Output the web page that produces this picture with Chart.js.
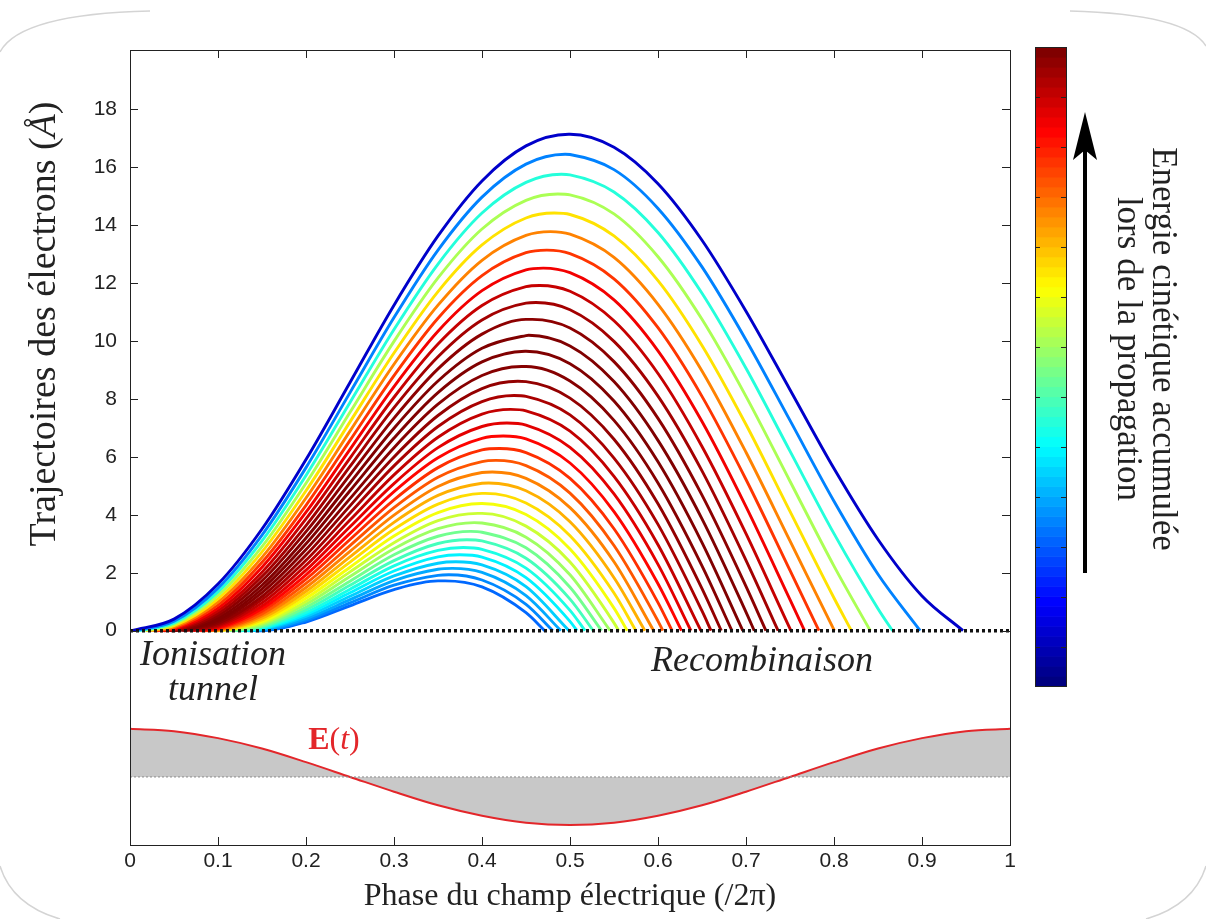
<!DOCTYPE html>
<html lang="fr">
<head>
<meta charset="UTF-8">
<title>Trajectoires des électrons</title>
<script src="https://cdn.jsdelivr.net/npm/chart.js"></script>
<style>
  * { margin: 0; padding: 0; box-sizing: border-box; }
  body { background: #fff; }
  .wrap { width: 1206px; height: 919px; position: relative; }
</style>
</head>
<body>
<div class="wrap"><canvas id="traj"></canvas></div>
<script>
// phase grid (in units of 2pi) on which the trajectories are read
const phaseGrid = [0, 0.05, 0.1, 0.15, 0.2, 0.25, 0.3, 0.35, 0.4, 0.45, 0.5,
                   0.55, 0.6, 0.65, 0.7, 0.75, 0.8, 0.85, 0.9, 0.95, 1];

// one entry per trajectory, outermost first
const ionisationPhase = [0.0015, 0.0056, 0.0098, 0.0139, 0.0180, 0.0222, 0.0263, 0.0304, 0.0346, 0.0387,
                         0.0428, 0.0469, 0.0511, 0.0552, 0.0593, 0.0635, 0.0676, 0.0717, 0.0759, 0.0800,
                         0.0841, 0.0883, 0.0924, 0.0965, 0.1007, 0.1048, 0.1089, 0.1131, 0.1172, 0.1213,
                         0.1255, 0.1296, 0.1337, 0.1378, 0.1420];
const recombinationPhase = [0.9466, 0.8979, 0.8665, 0.8412, 0.8198, 0.8005, 0.7829, 0.7665, 0.7511, 0.7365,
                            0.7227, 0.7094, 0.6964, 0.6840, 0.6719, 0.6603, 0.6488, 0.6374, 0.6267, 0.6160,
                            0.6055, 0.5951, 0.5851, 0.5748, 0.5651, 0.5553, 0.5456, 0.5359, 0.5264, 0.5171,
                            0.5080, 0.4990, 0.4896, 0.4804, 0.4713];
const apexPhase = [0.4985, 0.4944, 0.4902, 0.4861, 0.4820, 0.4778, 0.4737, 0.4696, 0.4655, 0.4613,
                   0.4572, 0.4531, 0.4489, 0.4448, 0.4407, 0.4365, 0.4324, 0.4283, 0.4241, 0.4200,
                   0.4159, 0.4117, 0.4076, 0.4035, 0.3993, 0.3952, 0.3911, 0.3870, 0.3828, 0.3787,
                   0.3746, 0.3704, 0.3663, 0.3622, 0.3580];
const apexHeight = [17.14, 16.45, 15.76, 15.08, 14.42, 13.78, 13.14, 12.52, 11.92, 11.33,
                    10.75, 10.20, 9.65, 9.12, 8.61, 8.12, 7.64, 7.17, 6.72, 6.29,
                    5.88, 5.48, 5.10, 4.74, 4.39, 4.05, 3.73, 3.43, 3.14, 2.87,
                    2.62, 2.38, 2.15, 1.93, 1.72];
// kinetic energy at return (Up), drives the colour
const returnEnergy = [0.23, 0.80, 1.30, 1.72, 2.07, 2.37, 2.61, 2.81, 2.95, 3.06,
                      3.13, 3.17, 3.17, 3.15, 3.11, 3.04, 2.96, 2.86, 2.76, 2.63,
                      2.51, 2.37, 2.23, 2.09, 1.95, 1.82, 1.68, 1.54, 1.40, 1.27,
                      1.15, 1.04, 0.92, 0.82, 0.72];
// heights (Angstrom) at the grid phases that fall between ionisation and return
const trajectoryHeights = [
  [0.40, 1.61, 3.51, 5.91, 8.57, 11.24, 13.63, 15.53, 16.74, 17.14, 16.69, 15.43, 13.48, 11.03, 8.32, 5.60, 3.15, 1.20],
  [0.33, 1.47, 3.30, 5.63, 8.22, 10.81, 13.14, 14.97, 16.11, 16.44, 15.92, 14.58, 12.56, 10.04, 7.26, 4.47, 1.95],
  [0.27, 1.34, 3.10, 5.36, 7.88, 10.40, 12.66, 14.42, 15.48, 15.74, 15.15, 13.75, 11.65, 9.06, 6.20, 3.35, 0.76],
  [0.22, 1.22, 2.90, 5.09, 7.54, 9.99, 12.18, 13.87, 14.86, 15.05, 14.39, 12.91, 10.75, 8.09, 5.16, 2.23],
  [0.17, 1.10, 2.72, 4.83, 7.21, 9.59, 11.71, 13.32, 14.25, 14.37, 13.63, 12.09, 9.85, 7.12, 4.12, 1.13],
  [0.13, 0.99, 2.53, 4.58, 6.89, 9.20, 11.24, 12.79, 13.65, 13.69, 12.89, 11.27, 8.97, 6.16, 3.10, 0.03],
  [0.09, 0.88, 2.36, 4.33, 6.57, 8.81, 10.79, 12.26, 13.05, 13.02, 12.15, 10.46, 8.09, 5.22, 2.08],
  [0.06, 0.78, 2.19, 4.09, 6.26, 8.43, 10.34, 11.74, 12.46, 12.36, 11.42, 9.66, 7.22, 4.28, 1.07],
  [0.04, 0.69, 2.02, 3.86, 5.96, 8.06, 9.90, 11.23, 11.88, 11.72, 10.70, 8.88, 6.36, 3.35, 0.07],
  [0.02, 0.60, 1.87, 3.63, 5.67, 7.70, 9.46, 10.73, 11.31, 11.08, 9.99, 8.10, 5.52, 2.43],
  [0.01, 0.52, 1.72, 3.42, 5.38, 7.34, 9.04, 10.24, 10.75, 10.45, 9.29, 7.33, 4.68, 1.53],
  [0.00, 0.44, 1.57, 3.20, 5.10, 6.99, 8.62, 9.75, 10.19, 9.83, 8.60, 6.57, 3.86, 0.64],
  [0.37, 1.44, 3.00, 4.83, 6.65, 8.22, 9.28, 9.65, 9.22, 7.93, 5.83, 3.04],
  [0.31, 1.31, 2.80, 4.56, 6.32, 7.82, 8.81, 9.12, 8.62, 7.26, 5.10, 2.24],
  [0.25, 1.18, 2.61, 4.31, 6.00, 7.43, 8.36, 8.60, 8.03, 6.61, 4.38, 1.45],
  [0.20, 1.07, 2.43, 4.06, 5.69, 7.05, 7.91, 8.09, 7.45, 5.96, 3.67, 0.68],
  [0.16, 0.96, 2.26, 3.82, 5.38, 6.68, 7.48, 7.59, 6.89, 5.33, 2.97],
  [0.12, 0.85, 2.09, 3.59, 5.08, 6.32, 7.05, 7.10, 6.33, 4.72, 2.29],
  [0.09, 0.76, 1.93, 3.36, 4.80, 5.97, 6.64, 6.62, 5.79, 4.11, 1.62],
  [0.06, 0.67, 1.78, 3.15, 4.52, 5.63, 6.24, 6.15, 5.26, 3.52, 0.97],
  [0.04, 0.58, 1.63, 2.94, 4.25, 5.30, 5.84, 5.70, 4.75, 2.94, 0.33],
  [0.02, 0.51, 1.49, 2.74, 3.99, 4.98, 5.46, 5.26, 4.25, 2.38],
  [0.01, 0.43, 1.36, 2.55, 3.74, 4.67, 5.09, 4.83, 3.76, 1.83],
  [0.00, 0.37, 1.24, 2.37, 3.50, 4.37, 4.74, 4.41, 3.28, 1.30],
  [0.31, 1.12, 2.19, 3.27, 4.08, 4.39, 4.01, 2.82, 0.78],
  [0.26, 1.01, 2.03, 3.04, 3.80, 4.05, 3.61, 2.37, 0.27],
  [0.21, 0.91, 1.87, 2.83, 3.52, 3.72, 3.23, 1.93],
  [0.16, 0.81, 1.71, 2.62, 3.26, 3.40, 2.86, 1.50],
  [0.13, 0.72, 1.57, 2.42, 3.01, 3.10, 2.50, 1.09],
  [0.10, 0.63, 1.43, 2.24, 2.77, 2.81, 2.16, 0.70],
  [0.07, 0.56, 1.31, 2.06, 2.55, 2.54, 1.83, 0.32],
  [0.05, 0.49, 1.19, 1.89, 2.33, 2.27, 1.52],
  [0.03, 0.42, 1.07, 1.73, 2.12, 2.01, 1.21],
  [0.01, 0.36, 0.96, 1.57, 1.91, 1.75, 0.91],
  [0.00, 0.30, 0.86, 1.42, 1.72, 1.51, 0.62]
];

// driving field, drawn under the trajectories on the same grid
const fieldValues = [-3.39, -3.47, -3.71, -4.07, -4.54, -5.05, -5.56, -6.03, -6.39, -6.63, -6.71,
                     -6.63, -6.39, -6.03, -5.56, -5.05, -4.54, -4.07, -3.71, -3.47, -3.39];
const fieldBaseline = -5.05;

const xTicks = [0, 0.1, 0.2, 0.3, 0.4, 0.5, 0.6, 0.7, 0.8, 0.9, 1];
const xTickLabels = ['0', '0.1', '0.2', '0.3', '0.4', '0.5', '0.6', '0.7', '0.8', '0.9', '1'];
const yTicks = [0, 2, 4, 6, 8, 10, 12, 14, 16, 18];

const serif = "'Liberation Serif', 'DejaVu Serif', serif";
const sans = "'Liberation Sans Narrow', 'Liberation Sans', Arial, sans-serif";
const W = 1206, H = 919;
const AREA = { left: 130, top: 50, right: 1010, bottom: 845 };

function jet(v) {
    const c = t => Math.round(255 * Math.max(0, Math.min(1, t)));
    return 'rgb(' + c(1.5 - Math.abs(4 * v - 3)) + ',' + c(1.5 - Math.abs(4 * v - 2)) + ',' + c(1.5 - Math.abs(4 * v - 1)) + ')';
}

const datasets = [];
datasets.push({ data: [{ x: 0, y: fieldBaseline }, { x: 1, y: fieldBaseline }], borderColor: '#8c8c8c', borderWidth: 1, borderDash: [2, 2], pointRadius: 0 });
datasets.push({ data: [{ x: 0, y: 0 }, { x: 1, y: 0 }], borderColor: '#111', borderWidth: 3.5, borderDash: [3, 3], pointRadius: 0 });
datasets.push({
    data: phaseGrid.map((p, i) => ({ x: p, y: fieldValues[i] })),
    borderColor: '#e3262a', borderWidth: 2, pointRadius: 0, cubicInterpolationMode: 'monotone',
    fill: { value: fieldBaseline }, backgroundColor: '#c8c8c8'
});

const step = phaseGrid[1] - phaseGrid[0];
const eMax = Math.max(...returnEnergy);
trajectoryHeights.forEach((row, i) => {
    const k0 = Math.floor(ionisationPhase[i] / step) + 1;
    const pts = [{ x: ionisationPhase[i], y: 0 }];
    row.forEach((y, j) => pts.push({ x: phaseGrid[k0 + j], y: y }));
    pts.push({ x: apexPhase[i], y: apexHeight[i] });
    pts.push({ x: recombinationPhase[i], y: 0 });
    pts.sort((a, b) => a.x - b.x);
    datasets.push({
        data: pts, borderColor: jet(returnEnergy[i] / eMax), borderWidth: 2.9,
        pointRadius: 0, cubicInterpolationMode: 'monotone', fill: false
    });
});

function drawParts(ctx, parts, x, y) {
    // parts: [text, font] drawn one after another, centred on x
    let total = 0;
    parts.forEach(p => { ctx.font = p[1]; total += ctx.measureText(p[0]).width; });
    let cx = x - total / 2;
    ctx.textAlign = 'left';
    parts.forEach(p => { ctx.font = p[1]; ctx.fillText(p[0], cx, y); cx += ctx.measureText(p[0]).width; });
}

const decorations = {
    id: 'decorations',
    afterDraw(chart) {
        const ctx = chart.ctx;
        const xs = chart.scales.x, ys = chart.scales.y;
        ctx.save();

        // box and inward ticks
        ctx.strokeStyle = '#222';
        ctx.lineWidth = 1;
        ctx.strokeRect(AREA.left + 0.5, AREA.top + 0.5, AREA.right - AREA.left, AREA.bottom - AREA.top);
        ctx.beginPath();
        xTicks.forEach(v => {
            const px = Math.round(xs.getPixelForValue(v)) + 0.5;
            ctx.moveTo(px, AREA.bottom); ctx.lineTo(px, AREA.bottom - 8);
            ctx.moveTo(px, AREA.top); ctx.lineTo(px, AREA.top + 8);
        });
        yTicks.forEach(v => {
            const py = Math.round(ys.getPixelForValue(v)) + 0.5;
            ctx.moveTo(AREA.left, py); ctx.lineTo(AREA.left + 8, py);
            ctx.moveTo(AREA.right, py); ctx.lineTo(AREA.right - 8, py);
        });
        ctx.stroke();

        // axis titles
        ctx.fillStyle = '#222';
        ctx.textBaseline = 'middle';
        ctx.save();
        ctx.translate(45, 324);
        ctx.rotate(-Math.PI / 2);
        drawParts(ctx, [['Trajectoires des électrons (', '38px ' + serif], ['Å', 'italic 38px ' + serif], [')', '38px ' + serif]], 0, 0);
        ctx.restore();
        drawParts(ctx, [['Phase du champ électrique (/2π)', '32px ' + serif]], 570, 897);

        // annotations
        ctx.font = 'italic 36px ' + serif;
        ctx.textAlign = 'left';
        ctx.fillText('Ionisation', 140, 656);
        ctx.fillText('tunnel', 168, 691);
        ctx.fillText('Recombinaison', 651, 662);
        ctx.fillStyle = '#e3262a';
        drawParts(ctx, [['E', 'bold 32px ' + serif], ['(', '32px ' + serif], ['t', 'italic 32px ' + serif], [')', '32px ' + serif]], 334, 741);

        // colour bar
        const cb = { left: 1035, right: 1066, top: 47, bottom: 686 };
        const bands = 64, bh = (cb.bottom - cb.top) / bands;
        for (let i = 0; i < bands; i++) {
            ctx.fillStyle = jet(i / (bands - 1));
            ctx.fillRect(cb.left, cb.bottom - (i + 1) * bh, cb.right - cb.left, bh + 0.6);
        }
        ctx.strokeStyle = '#222';
        ctx.lineWidth = 1;
        ctx.strokeRect(cb.left + 0.5, cb.top + 0.5, cb.right - cb.left, cb.bottom - cb.top);
        ctx.beginPath();
        for (let ty = 97; ty < cb.bottom - 20; ty += 50) {
            ctx.moveTo(cb.left, ty + 0.5); ctx.lineTo(cb.left + 5, ty + 0.5);
            ctx.moveTo(cb.right, ty + 0.5); ctx.lineTo(cb.right - 5, ty + 0.5);
        }
        ctx.stroke();

        // arrow
        ctx.strokeStyle = '#000';
        ctx.fillStyle = '#000';
        ctx.lineWidth = 4;
        ctx.beginPath();
        ctx.moveTo(1085, 573); ctx.lineTo(1085, 140);
        ctx.stroke();
        ctx.beginPath();
        ctx.moveTo(1085, 112);
        ctx.lineTo(1097, 160);
        ctx.lineTo(1085, 150);
        ctx.lineTo(1073, 160);
        ctx.closePath();
        ctx.fill();

        // rotated legend text
        ctx.fillStyle = '#222';
        ctx.save();
        ctx.translate(1162, 349);
        ctx.rotate(Math.PI / 2);
        drawParts(ctx, [['Energie cinétique accumulée', '35px ' + serif]], 0, 0);
        ctx.restore();
        ctx.save();
        ctx.translate(1127, 349);
        ctx.rotate(Math.PI / 2);
        drawParts(ctx, [['lors de la propagation', '35px ' + serif]], 0, 0);
        ctx.restore();

        // rounded slide corners
        ctx.strokeStyle = '#d4d4d4';
        ctx.lineWidth = 1.5;
        ctx.beginPath();
        ctx.moveTo(0, 52); ctx.quadraticCurveTo(20, 14, 150, 11);
        ctx.moveTo(1070, 11); ctx.quadraticCurveTo(1186, 14, W, 46);
        ctx.moveTo(0, 866); ctx.quadraticCurveTo(12, 905, 60, H);
        ctx.moveTo(W, 866); ctx.quadraticCurveTo(1194, 905, 1146, H);
        ctx.stroke();

        ctx.restore();
    }
};

new Chart(document.getElementById('traj'), {
    type: 'line',
    data: { datasets: datasets },
    options: {
        responsive: true,
        maintainAspectRatio: false,
        animation: false,
        layout: { padding: { left: 0, top: AREA.top, right: W - AREA.right, bottom: 0 } },
        plugins: { legend: { display: false }, tooltip: { enabled: false } },
        scales: {
            x: {
                type: 'linear', min: 0, max: 1,
                grid: { display: false, drawTicks: false },
                border: { display: false },
                afterFit: s => { s.height = H - AREA.bottom; },
                afterBuildTicks: s => { s.ticks = xTicks.map(v => ({ value: v })); },
                ticks: { padding: 4, color: '#222', font: { family: sans, size: 21 }, maxRotation: 0, autoSkip: false,
                         callback: (v, i) => xTickLabels[i] }
            },
            y: {
                min: -7.4, max: 20.05,
                grid: { display: false, drawTicks: false },
                border: { display: false },
                afterFit: s => { s.width = AREA.left; },
                afterBuildTicks: s => { s.ticks = yTicks.map(v => ({ value: v })); },
                ticks: { padding: 13, color: '#222', font: { family: sans, size: 21 }, autoSkip: false,
                         callback: v => String(v) }
            }
        }
    },
    plugins: [decorations]
});
</script>
</body>
</html>
